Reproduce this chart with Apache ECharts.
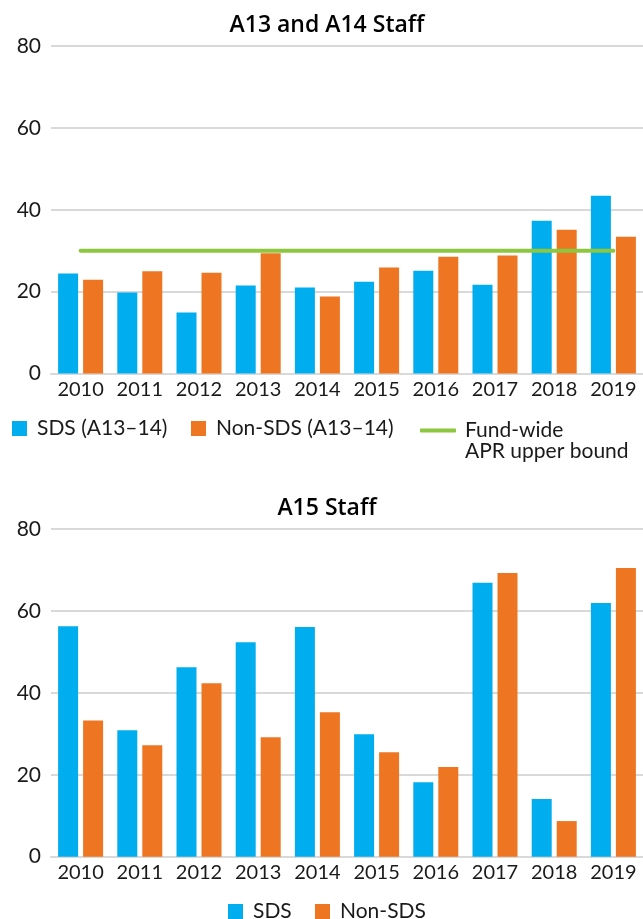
<!DOCTYPE html>
<html>
<head>
<meta charset="utf-8">
<script src="https://cdn.jsdelivr.net/npm/echarts@6/dist/echarts.min.js"></script>
<style>
  html, body { margin: 0; padding: 0; background: #fff; }
  #main { width: 643px; height: 919px; }
</style>
</head>
<body>
<div id="main"></div>
<script>
// chart data
var years = ['2010', '2011', '2012', '2013', '2014', '2015', '2016', '2017', '2018', '2019'];
var sdsA1314 = [24.4, 19.8, 14.9, 21.5, 21.0, 22.4, 25.1, 21.7, 37.3, 43.4];
var nonSdsA1314 = [22.9, 25.0, 24.6, 29.4, 18.8, 25.9, 28.5, 28.8, 35.1, 33.4];
var aprUpperBound = [30, 30, 30, 30, 30, 30, 30, 30, 30, 30];
var sdsA15 = [56.3, 30.9, 46.3, 52.4, 56.1, 29.9, 18.2, 66.9, 14.1, 62.0];
var nonSdsA15 = [33.3, 27.2, 42.4, 29.2, 35.3, 25.5, 21.9, 69.3, 8.7, 70.5];
var yMin = 0, yMax = 80, yStep = 20;

var FONT = 'Lato';
var TXT = '#1a1a1a';
var BLUE = '#00aeef';
var ORANGE = '#ee7623';
var GREEN = '#8dc63f';
var GRID_LINE = '#d9d9d9';

function make_xaxis(idx) {
    return {
        type: 'category',
        gridIndex: idx,
        data: years,
        axisTick: { show: false },
        axisLine: { lineStyle: { color: GRID_LINE, width: 2 } },
        axisLabel: { interval: 0, color: TXT, fontFamily: FONT, fontSize: 20, margin: 6 }
    };
}

function make_yaxis(idx) {
    return {
        type: 'value',
        gridIndex: idx,
        min: yMin,
        max: yMax,
        interval: yStep,
        axisLine: { show: false },
        axisTick: { show: false },
        splitLine: { lineStyle: { color: GRID_LINE, width: 2 } },
        axisLabel: { color: TXT, fontFamily: FONT, fontSize: 21, margin: 10 }
    };
}

function make_bar(name, values, color, idx) {
    return {
        name: name,
        type: 'bar',
        xAxisIndex: idx,
        yAxisIndex: idx,
        data: values,
        barWidth: 20,
        barGap: '25%',
        itemStyle: { color: color }
    };
}

function make_legend(name, left, top, icon, w, h, pad) {
    return {
        data: [name],
        left: left,
        top: top,
        padding: 0,
        icon: icon,
        itemWidth: w,
        itemHeight: h,
        selectedMode: false,
        textStyle: { color: TXT, fontFamily: FONT, fontSize: 21, padding: [0, 0, 0, pad] }
    };
}

var myChart = echarts.init(document.getElementById('main'));

var titleStyle = { color: '#000', fontFamily: 'Open Sans', fontSize: 23, fontWeight: 600 };

var option = {
    animation: false,
    title: [
        { text: 'A13 and A14 Staff', left: 327, top: 14, textAlign: 'center', padding: 0, textStyle: titleStyle },
        { text: 'A15 Staff', left: 327, top: 497, textAlign: 'center', padding: 0, textStyle: titleStyle }
    ],
    grid: [
        { left: 51, width: 596, top: 46, height: 327.5 },
        { left: 51, width: 596, top: 529.2, height: 327.5 }
    ],
    xAxis: [make_xaxis(0), make_xaxis(1)],
    yAxis: [make_yaxis(0), make_yaxis(1)],
    legend: [
        make_legend('SDS (A13\u201314)', 12, 418, 'rect', 15, 15, 5),
        make_legend('Non-SDS (A13\u201314)', 191, 418, 'rect', 15, 15, 5),
        make_legend('Fund-wide', 420, 420, 'roundRect', 36, 4, 4),
        make_legend('SDS', 228, 901, 'rect', 15, 15, 5),
        make_legend('Non-SDS', 315, 901, 'rect', 15, 15, 5)
    ],
    graphic: [
        {
            type: 'text',
            left: 465,
            top: 441,
            style: { text: 'APR upper bound', fill: TXT, font: '21px ' + FONT }
        }
    ],
    series: [
        make_bar('SDS (A13\u201314)', sdsA1314, BLUE, 0),
        make_bar('Non-SDS (A13\u201314)', nonSdsA1314, ORANGE, 0),
        {
            name: 'Fund-wide',
            type: 'line',
            xAxisIndex: 0,
            yAxisIndex: 0,
            data: aprUpperBound,
            symbol: 'none',
            z: 5,
            itemStyle: { color: GREEN },
            lineStyle: { color: GREEN, width: 4, cap: 'round' }
        },
        make_bar('SDS', sdsA15, BLUE, 1),
        make_bar('Non-SDS', nonSdsA15, ORANGE, 1)
    ]
};

myChart.setOption(option);
</script>
</body>
</html>
